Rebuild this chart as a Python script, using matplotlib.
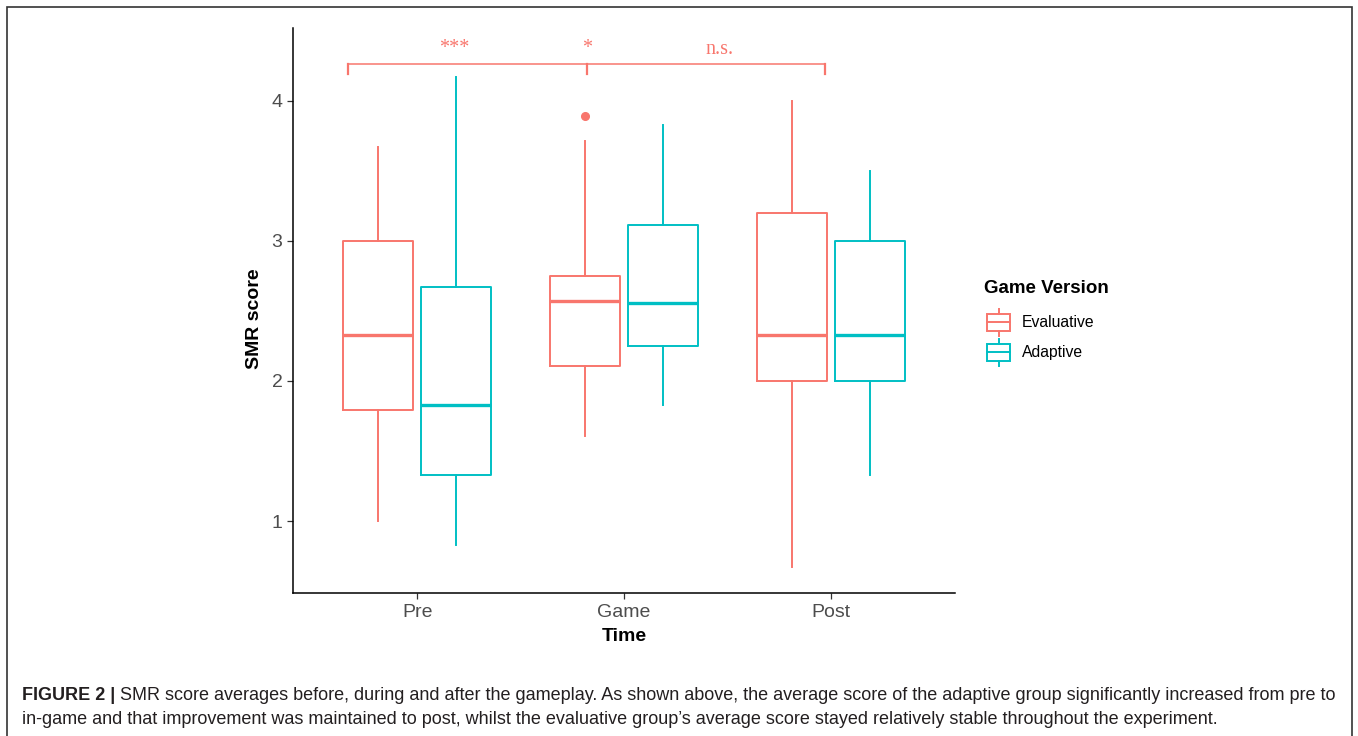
import numpy as np
import matplotlib
matplotlib.use('Agg')
import matplotlib.pyplot as plt
from matplotlib.patches import Rectangle
from matplotlib.lines import Line2D

plt.rcParams['font.family'] = ['Liberation Sans', 'DejaVu Sans']

# Box statistics (SMR score)
times = ['Pre', 'Game', 'Post']
groups = ['Evaluative', 'Adaptive']
colors = {'Evaluative': '#F8766D', 'Adaptive': '#00BFC4'}

whislo = {'Evaluative': [1.00, 1.61, 0.67], 'Adaptive': [0.83, 1.83, 1.33]}
q1 = {'Evaluative': [1.79, 2.11, 2.00], 'Adaptive': [1.33, 2.25, 2.00]}
med = {'Evaluative': [2.33, 2.57, 2.33], 'Adaptive': [1.83, 2.56, 2.33]}
q3 = {'Evaluative': [3.00, 2.75, 3.20], 'Adaptive': [2.67, 3.11, 3.00]}
whishi = {'Evaluative': [3.67, 3.71, 4.00], 'Adaptive': [4.17, 3.83, 3.50]}
fliers = {'Evaluative': [[], [3.89], []], 'Adaptive': [[], [], []]}

# significance bracket
bracket_x = [0.667, 1.82, 2.97]
bracket_y = 4.265
bracket_tick = 4.19
sig_labels = ['***', '*', 'n.s.']
sig_x = [1.18, 1.82, 2.46]
sig_y = [4.375, 4.375, 4.37]

caption_bold = 'FIGURE 2 |'
caption_1 = (' SMR score averages before, during and after the gameplay. As shown above, '
             'the average score of the adaptive group significantly increased from pre to')
caption_2 = ('in-game and that improvement was maintained to post, whilst the '
             'evaluative group\u2019s average score stayed relatively stable throughout the experiment.')

W, H = 1358, 736
fig = plt.figure(figsize=(W / 100, H / 100), dpi=100)
ax = fig.add_axes([293 / W, 1 - 593 / H, (955 - 293) / W, (593 - 28) / H])

offsets = {'Evaluative': -0.1875, 'Adaptive': 0.1875}
for g in groups:
    stats = []
    for i in range(len(times)):
        stats.append({'whislo': whislo[g][i], 'q1': q1[g][i], 'med': med[g][i],
                      'q3': q3[g][i], 'whishi': whishi[g][i], 'fliers': fliers[g][i]})
    pos = np.arange(1, len(times) + 1) + offsets[g]
    c = colors[g]
    ax.bxp(stats, positions=pos, widths=0.3375, showcaps=False,
           boxprops=dict(color=c, linewidth=1.4),
           whiskerprops=dict(color=c, linewidth=1.4),
           medianprops=dict(color=c, linewidth=2.4),
           flierprops=dict(marker='o', markerfacecolor=c, markeredgecolor=c, markersize=5.5))

# bracket
sig_color = '#F8766D'
ax.plot([bracket_x[0], bracket_x[-1]], [bracket_y, bracket_y], color=sig_color, lw=1.1)
for bx in bracket_x:
    ax.plot([bx, bx], [bracket_y, bracket_tick], color=sig_color, lw=1.6)
for lab, sx, sy in zip(sig_labels, sig_x, sig_y):
    ax.text(sx, sy, lab, color=sig_color, ha='center', va='center',
            family='Liberation Serif', fontsize=14.5)

ax.set_xlim(0.4, 3.6)
ax.set_ylim(0.486, 4.52)
ax.set_xticks([1, 2, 3])
ax.set_xticklabels(times)
ax.set_yticks([1, 2, 3, 4])
ax.set_yticklabels(['1', '2', '3', '4'])
for s in ['top', 'right']:
    ax.spines[s].set_visible(False)
for s in ['left', 'bottom']:
    ax.spines[s].set_linewidth(1.1)
    ax.spines[s].set_color('black')
ax.tick_params(axis='both', colors='#333333', length=4, width=0.9,
               labelsize=14, labelcolor='#4D4D4D')
ax.tick_params(axis='x', pad=4)
ax.set_xlabel('Time', fontsize=14, fontweight='bold', labelpad=5)
ax.set_ylabel('SMR score', fontsize=14, fontweight='bold')
ax.yaxis.set_label_coords(-0.045, 0.485)

# legend drawn in a small pixel-space axes
lax = fig.add_axes([970 / W, 1 - 370 / H, 160 / W, 100 / H])
lax.set_xlim(970, 1130)
lax.set_ylim(370, 270)
lax.axis('off')
lax.text(984, 289, 'Game Version', fontsize=13.5, fontweight='bold', va='center', ha='left')
for g, yc in zip(groups, [322.5, 352.5]):
    c = colors[g]
    lax.add_patch(Rectangle((987, yc - 8.5), 23, 17, fill=False, ec=c, lw=1.4))
    lax.add_line(Line2D([987, 1010], [yc, yc], color=c, lw=1.4))
    lax.add_line(Line2D([998.5, 998.5], [yc - 13.5, yc - 8.5], color=c, lw=1.4))
    lax.add_line(Line2D([998.5, 998.5], [yc + 8.5, yc + 13.5], color=c, lw=1.4))
    lax.text(1022, yc, g, fontsize=11.3, va='center', ha='left')

# page frame
frame = Rectangle((7 / W, -0.02), (1352 - 7) / W, 1 - 7 / H + 0.02,
                  transform=fig.transFigure, fill=False, ec='#333333', lw=1.2)
fig.patches.append(frame)

# caption
t1 = fig.text(22 / W, 1 - 695 / H, caption_bold, fontsize=13, fontweight='bold',
              va='center', ha='left', color='#231F20')
fig.add_artist(matplotlib.text.Annotation(caption_1, xy=(1, 0.5), xycoords=t1,
                                          va='center', ha='left', fontsize=13,
                                          color='#231F20'))
fig.text(22 / W, 1 - 719 / H, caption_2, fontsize=13, va='center', ha='left',
         color='#231F20')

fig.savefig('out.png', dpi=100)
